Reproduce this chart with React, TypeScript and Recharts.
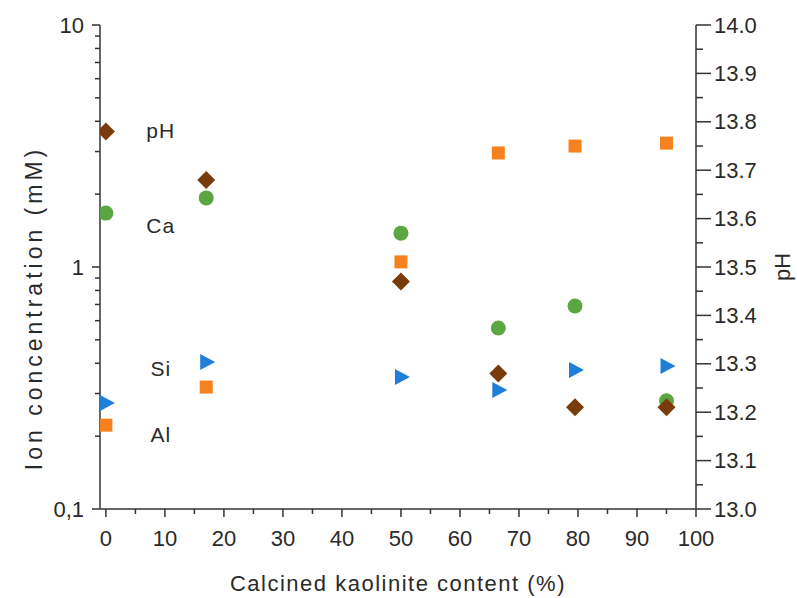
import React from 'react';
import { ComposedChart, Scatter, XAxis, YAxis } from 'recharts';

const contents = [0, 17, 50, 66.5, 79.5, 95];
const pHValues = [13.78, 13.68, 13.47, 13.28, 13.21, 13.21];
const caValues = [1.67, 1.93, 1.38, 0.56, 0.69, 0.28];
const siValues = [0.274, 0.405, 0.351, 0.31, 0.375, 0.39];
const alValues = [0.222, 0.319, 1.05, 2.96, 3.16, 3.25];

const annotations = [
  { x: 9.3, y: 3.68, text: 'pH' },
  { x: 9.3, y: 1.48, text: 'Ca' },
  { x: 9.3, y: 0.379, text: 'Si' },
  { x: 9.3, y: 0.204, text: 'Al' },
];

const xMajorTicks = [0, 10, 20, 30, 40, 50, 60, 70, 80, 90, 100];
const leftMajorTicks = [0.1, 1, 10];
const leftMajorLabels = ['0,1', '1', '10'];
const rightMajorTicks = [13.0, 13.1, 13.2, 13.3, 13.4, 13.5, 13.6, 13.7, 13.8, 13.9, 14.0];

const xTicks: number[] = [];
for (let i = 0; i <= 20; i++) xTicks.push(i * 5);
const leftTicks: number[] = [];
[0.1, 1].forEach((d) => { for (let k = 1; k <= 9; k++) leftTicks.push(+(d * k).toPrecision(3)); });
leftTicks.push(10);
const rightTicks: number[] = [];
for (let i = 0; i <= 20; i++) rightTicks.push(+(13 + i * 0.05).toFixed(2));

const mk = (vals: number[]) => contents.map((x, i) => ({ x, y: vals[i] }));
const phData = mk(pHValues);
const caData = mk(caValues);
const siData = mk(siValues);
const alData = mk(alValues);

const FONT = '"Liberation Sans", Arial, sans-serif';
const TXT = '#2a2a2a';
const AX = '#333';

const isIn = (v: number, arr: number[]) => arr.some((a) => Math.abs(a - v) < 1e-6);

const LeftTick = (p: any) => {
  const { x, y, payload } = p;
  const v = payload.value;
  const idx = leftMajorTicks.findIndex((a) => Math.abs(a - v) < 1e-9);
  const major = idx >= 0;
  return (
    <g>
      <line x1={x} x2={x - (major ? 8 : 5)} y1={y} y2={y} stroke={AX} strokeWidth={1.5} />
      {major && (
        <text x={x - 16} y={y} textAnchor="end" dominantBaseline="central" fontSize={22} fontFamily={FONT} fill={TXT}>
          {leftMajorLabels[idx]}
        </text>
      )}
    </g>
  );
};

const RightTick = (p: any) => {
  const { x, y, payload } = p;
  const v = payload.value;
  const major = isIn(v, rightMajorTicks);
  return (
    <g>
      <line x1={x} x2={x + (major ? 15 : 7)} y1={y} y2={y} stroke={AX} strokeWidth={1.5} />
      {major && (
        <text x={x + 18} y={y} textAnchor="start" dominantBaseline="central" fontSize={22} fontFamily={FONT} fill={TXT}>
          {v.toFixed(1)}
        </text>
      )}
    </g>
  );
};

const BottomTick = (p: any) => {
  const { x, y, payload } = p;
  const v = payload.value;
  const major = isIn(v, xMajorTicks);
  return (
    <g>
      <line x1={x} x2={x} y1={y} y2={y + (major ? 8 : 5)} stroke={AX} strokeWidth={1.5} />
      {major && (
        <text x={x} y={y + 29} textAnchor="middle" dominantBaseline="central" fontSize={22} fontFamily={FONT} fill={TXT}>
          {String(v)}
        </text>
      )}
    </g>
  );
};

const Diamond = (p: any) => {
  const { cx, cy } = p;
  const r = 9;
  return <path d={`M${cx},${cy - r}L${cx + r},${cy}L${cx},${cy + r}L${cx - r},${cy}Z`} fill="#7a3b0c" />;
};
const Circle = (p: any) => <circle cx={p.cx} cy={p.cy} r={7.5} fill="#5aa640" />;
const Square = (p: any) => <rect x={p.cx - 6.5} y={p.cy - 6.5} width={13} height={13} fill="#f5821f" />;
const Tri = (p: any) => {
  const { cx, cy } = p;
  return <path d={`M${cx - 6},${cy - 8}L${cx + 9},${cy}L${cx - 6},${cy + 8}Z`} fill="#1f7fd8" />;
};
const Ann = (p: any) => (
  <text x={p.cx} y={p.cy} textAnchor="middle" dominantBaseline="central" fontSize={21} fontFamily={FONT} fill={TXT} letterSpacing={1}>
    {p.payload.text}
  </text>
);

export default function App() {
  return (
    <div style={{ position: 'absolute', left: 0, top: 0, background: '#fff' }}>
      <ComposedChart width={797} height={598} margin={{ top: 25, right: 0, bottom: 0, left: 0 }}>
        <XAxis
          dataKey="x"
          type="number"
          domain={[-1, 100]}
          ticks={xTicks}
          interval={0}
          tickSize={0}
          tickMargin={0}
          tickLine={false}
          tick={<BottomTick />}
          height={89}
          stroke={AX}
          strokeWidth={1.5}
          allowDataOverflow
          label={{
            content: (lp: any) => {
              const vb = lp.viewBox;
              return (
                <text x={vb.x + vb.width / 2} y={vb.y + 74} textAnchor="middle" dominantBaseline="central" fontSize={22} fontFamily={FONT} fill={TXT} letterSpacing={1.5}>
                  Calcined kaolinite content (%)
                </text>
              );
            },
          }}
        />
        <YAxis
          yAxisId="left"
          dataKey="y"
          type="number"
          scale="log"
          domain={[0.1, 10]}
          ticks={leftTicks}
          interval={0}
          tickSize={0}
          tickMargin={0}
          tickLine={false}
          tick={<LeftTick />}
          width={100}
          stroke={AX}
          strokeWidth={1.5}
          allowDataOverflow
          label={{
            content: (lp: any) => {
              const vb = lp.viewBox;
              const cx = vb.x + 34;
              const cy = vb.y + vb.height / 2 + 41;
              return (
                <text x={cx} y={cy} transform={`rotate(-90 ${cx} ${cy})`} textAnchor="middle" dominantBaseline="central" fontSize={23} fontFamily={FONT} fill={TXT} letterSpacing={4}>
                  Ion concentration (mM)
                </text>
              );
            },
          }}
        />
        <YAxis
          yAxisId="right"
          orientation="right"
          dataKey="y"
          type="number"
          domain={[13, 14]}
          ticks={rightTicks}
          interval={0}
          tickSize={0}
          tickMargin={0}
          tickLine={false}
          tick={<RightTick />}
          width={101}
          stroke={AX}
          strokeWidth={1.5}
          allowDataOverflow
          label={{
            content: (lp: any) => {
              const vb = lp.viewBox;
              const cx = vb.x + 86;
              const cy = vb.y + vb.height / 2;
              return (
                <text x={cx} y={cy} transform={`rotate(-90 ${cx} ${cy})`} textAnchor="middle" dominantBaseline="central" fontSize={22} fontFamily={FONT} fill={TXT}>
                  pH
                </text>
              );
            },
          }}
        />
        <Scatter yAxisId="left" data={annotations} shape={<Ann />} isAnimationActive={false} />
        <Scatter yAxisId="left" data={caData} shape={<Circle />} isAnimationActive={false} />
        <Scatter yAxisId="left" data={alData} shape={<Square />} isAnimationActive={false} />
        <Scatter yAxisId="left" data={siData} shape={<Tri />} isAnimationActive={false} />
        <Scatter yAxisId="right" data={phData} shape={<Diamond />} isAnimationActive={false} />
      </ComposedChart>
    </div>
  );
}
